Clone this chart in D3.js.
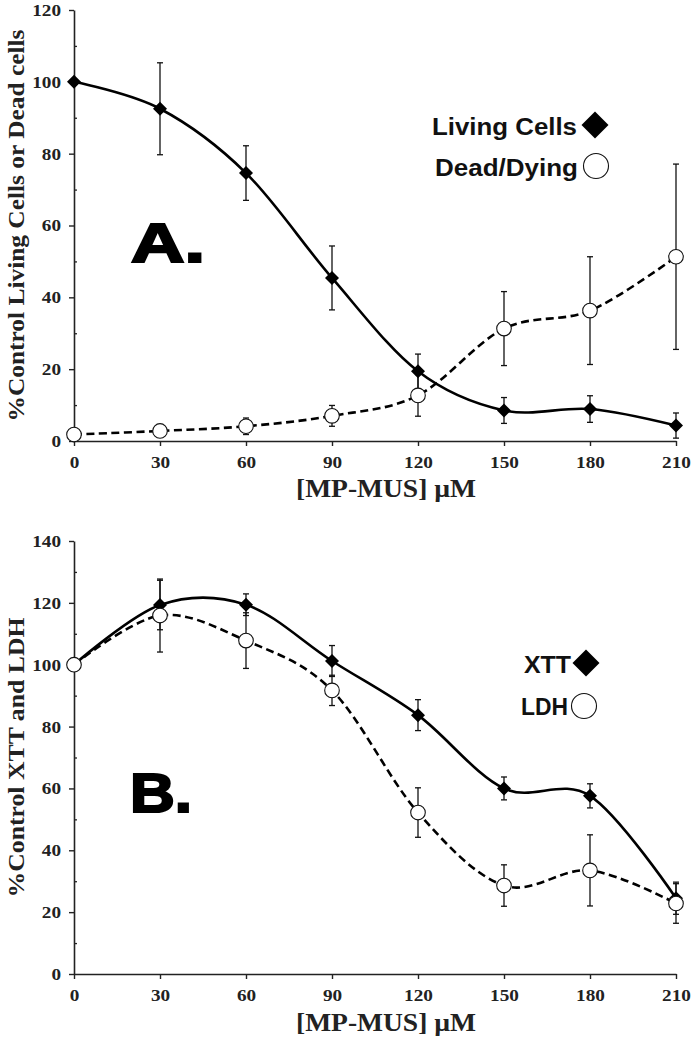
<!DOCTYPE html>
<html>
<head>
<meta charset="utf-8">
<script src="https://cdn.jsdelivr.net/npm/d3@7"></script>
<style>
  html, body { margin: 0; padding: 0; background: #fff; }
  svg { display: block; }
</style>
</head>
<body>
<script>
// ---- data ----
const concentrations = [0, 30, 60, 90, 120, 150, 180, 210];
const xTicks = [0, 30, 60, 90, 120, 150, 180, 210];

const livingCells = [100, 92.5, 74.6, 45.4, 19.4, 8.5, 8.9, 4.3];
const livingErr   = [0, 12.8, 7.6, 8.9, 4.8, 3.6, 3.7, 3.5];
const deadDying   = [1.8, 2.8, 4.1, 7.0, 12.7, 31.3, 36.3, 51.3];
const deadErr     = [0, 0, 2.3, 2.9, 5.8, 10.3, 15.0, 25.8];

const xtt    = [100, 119.3, 119.4, 101.2, 83.7, 60.0, 57.6, 24.5];
const xttErr = [0, 8.0, 3.5, 5.0, 5.0, 3.7, 3.9, 5.2];
const ldh    = [100, 115.9, 107.8, 91.7, 52.2, 28.6, 33.5, 22.8];
const ldhErr = [0, 11.8, 9.0, 4.9, 8.0, 6.7, 11.5, 6.4];

const yTicksA = [0, 20, 40, 60, 80, 100, 120];
const yTicksB = [0, 20, 40, 60, 80, 100, 120, 140];

const xTitle = "[MP-MUS] \u00B5M";
const yTitleA = "%Control Living Cells or Dead cells";
const yTitleB = "%Control XTT and LDH";
const legendA = ["Living Cells", "Dead/Dying"];
const legendB = ["XTT", "LDH"];

// ---- drawing ----
const W = 692, H = 1040;
const svg = d3.select("body").append("svg").attr("width", W).attr("height", H);
svg.append("rect").attr("width", W).attr("height", H).attr("fill", "#fff");

const serif = "'Liberation Serif', 'Times New Roman', serif";
const sans = "'Liberation Sans', Arial, sans-serif";

function panel(cfg) {
  const x = d3.scaleLinear().domain([0, 210]).range([74, 676]);
  const y = d3.scaleLinear().domain(cfg.yDomain).range([cfg.y0, cfg.y1]);
  const g = svg.append("g");

  // y axis
  const ya = g.append("g").attr("transform", `translate(${x(0)},0)`)
    .call(d3.axisLeft(y).tickValues(cfg.yTicks).tickSize(5).tickSizeOuter(0).tickPadding(8));
  const minors = cfg.yTicks.slice(0, -1).map((v, i) => (v + cfg.yTicks[i + 1]) / 2);
  g.append("g").attr("transform", `translate(${x(0)},0)`)
    .call(d3.axisRight(y).tickValues(minors).tickSize(3).tickFormat(""))
    .call(s => s.select(".domain").remove())
    .selectAll("line").attr("stroke", "#222").attr("stroke-width", 1.3);

  // x axis
  const xa = g.append("g").attr("transform", `translate(0,${y(0)})`)
    .call(d3.axisBottom(x).tickValues(xTicks).tickSize(5).tickSizeOuter(0).tickPadding(10));

  [ya, xa].forEach(a => {
    a.select(".domain").attr("stroke", "#222").attr("stroke-width", 1.6);
    a.selectAll(".tick line").attr("stroke", "#222").attr("stroke-width", 1.4);
    a.selectAll("text")
      .attr("font-family", serif).attr("font-weight", "bold")
      .attr("font-size", 17).attr("fill", "#222")
      .attr("textLength", d => String(d).length * 9.6)
      .attr("lengthAdjust", "spacingAndGlyphs");
  });

  // axis titles
  g.append("text")
    .attr("transform", `translate(24,${(cfg.y0 + cfg.y1) / 2}) rotate(-90)`)
    .attr("text-anchor", "middle")
    .attr("font-family", serif).attr("font-weight", "bold").attr("font-size", 24)
    .attr("fill", "#222")
    .attr("textLength", cfg.yTitleLen).attr("lengthAdjust", "spacingAndGlyphs")
    .text(cfg.yTitle);
  g.append("text")
    .attr("x", 386).attr("y", cfg.xTitleY)
    .attr("text-anchor", "middle")
    .attr("font-family", serif).attr("font-weight", "bold").attr("font-size", 26)
    .attr("fill", "#222")
    .attr("textLength", 180).attr("lengthAdjust", "spacingAndGlyphs")
    .text(xTitle);

  // panel letter
  g.append("text")
    .attr("x", cfg.letterX).attr("y", cfg.letterY)
    .attr("font-family", sans).attr("font-weight", "bold").attr("font-size", 56)
    .attr("fill", "#000").attr("stroke", "#000").attr("stroke-width", 2.2)
    .attr("textLength", cfg.letterLen).attr("lengthAdjust", "spacingAndGlyphs")
    .text(cfg.letter);

  const line = d3.line().x((d, i) => x(concentrations[i])).y(d => y(d))
    .curve(d3.curveCardinal.tension(0));

  function errorBars(vals, errs) {
    const eg = g.append("g").attr("stroke", "#111").attr("stroke-width", 1.3);
    vals.forEach((v, i) => {
      if (!errs[i]) return;
      const cx = x(concentrations[i]);
      const top = y(v + errs[i]), bot = y(v - errs[i]);
      eg.append("line").attr("x1", cx).attr("x2", cx).attr("y1", top).attr("y2", bot);
      eg.append("line").attr("x1", cx - 3).attr("x2", cx + 3).attr("y1", top).attr("y2", top);
      eg.append("line").attr("x1", cx - 3).attr("x2", cx + 3).attr("y1", bot).attr("y2", bot);
    });
  }

  errorBars(cfg.s1, cfg.e1);
  errorBars(cfg.s2, cfg.e2);

  g.append("path").datum(cfg.s2).attr("d", line)
    .attr("fill", "none").attr("stroke", "#000").attr("stroke-width", 2.6)
    .attr("stroke-dasharray", "8,4.5");
  g.append("path").datum(cfg.s1).attr("d", line)
    .attr("fill", "none").attr("stroke", "#000").attr("stroke-width", 2.6);

  // markers
  const diamond = s => `M0,${-s}L${s},0L0,${s}L${-s},0Z`;
  g.selectAll(null).data(cfg.s1).enter().append("path")
    .attr("transform", (d, i) => `translate(${x(concentrations[i])},${y(d)})`)
    .attr("d", diamond(7)).attr("fill", "#000");
  g.selectAll(null).data(cfg.s2).enter().append("circle")
    .attr("cx", (d, i) => x(concentrations[i])).attr("cy", d => y(d)).attr("r", 7.3)
    .attr("fill", "#fff").attr("stroke", "#111").attr("stroke-width", 1.1);

  // legend
  cfg.legend.forEach((lab, i) => {
    const L = cfg.legendPos[i];
    g.append("text")
      .attr("x", L.tx).attr("y", L.ty).attr("text-anchor", "end")
      .attr("font-family", sans).attr("font-weight", "bold").attr("font-size", 23)
      .attr("fill", "#111")
      .attr("textLength", L.len).attr("lengthAdjust", "spacingAndGlyphs")
      .text(lab);
    if (i === 0) {
      g.append("path").attr("transform", `translate(${L.mx},${L.my})`)
        .attr("d", diamond(13.5)).attr("fill", "#000");
    } else {
      g.append("circle").attr("cx", L.mx).attr("cy", L.my).attr("r", 12.5)
        .attr("fill", "#fff").attr("stroke", "#111").attr("stroke-width", 1.1);
    }
  });
}

panel({
  yDomain: [0, 120], y0: 441, y1: 10, yTicks: yTicksA,
  yTitle: yTitleA, yTitleLen: 392, xTitleY: 497,
  letter: "A.", letterX: 131, letterY: 262, letterLen: 74,
  s1: livingCells, e1: livingErr, s2: deadDying, e2: deadErr,
  legend: legendA,
  legendPos: [
    { tx: 577, ty: 135, len: 145, mx: 595, my: 125 },
    { tx: 578, ty: 176, len: 143, mx: 596, my: 166 }
  ]
});

panel({
  yDomain: [0, 140], y0: 974, y1: 541, yTicks: yTicksB,
  yTitle: yTitleB, yTitleLen: 280, xTitleY: 1031,
  letter: "B.", letterX: 130, letterY: 812, letterLen: 62,
  s1: xtt, e1: xttErr, s2: ldh, e2: ldhErr,
  legend: legendB,
  legendPos: [
    { tx: 571, ty: 673, len: 47, mx: 586, my: 663 },
    { tx: 568, ty: 715, len: 47, mx: 584, my: 706 }
  ]
});
</script>
</body>
</html>
